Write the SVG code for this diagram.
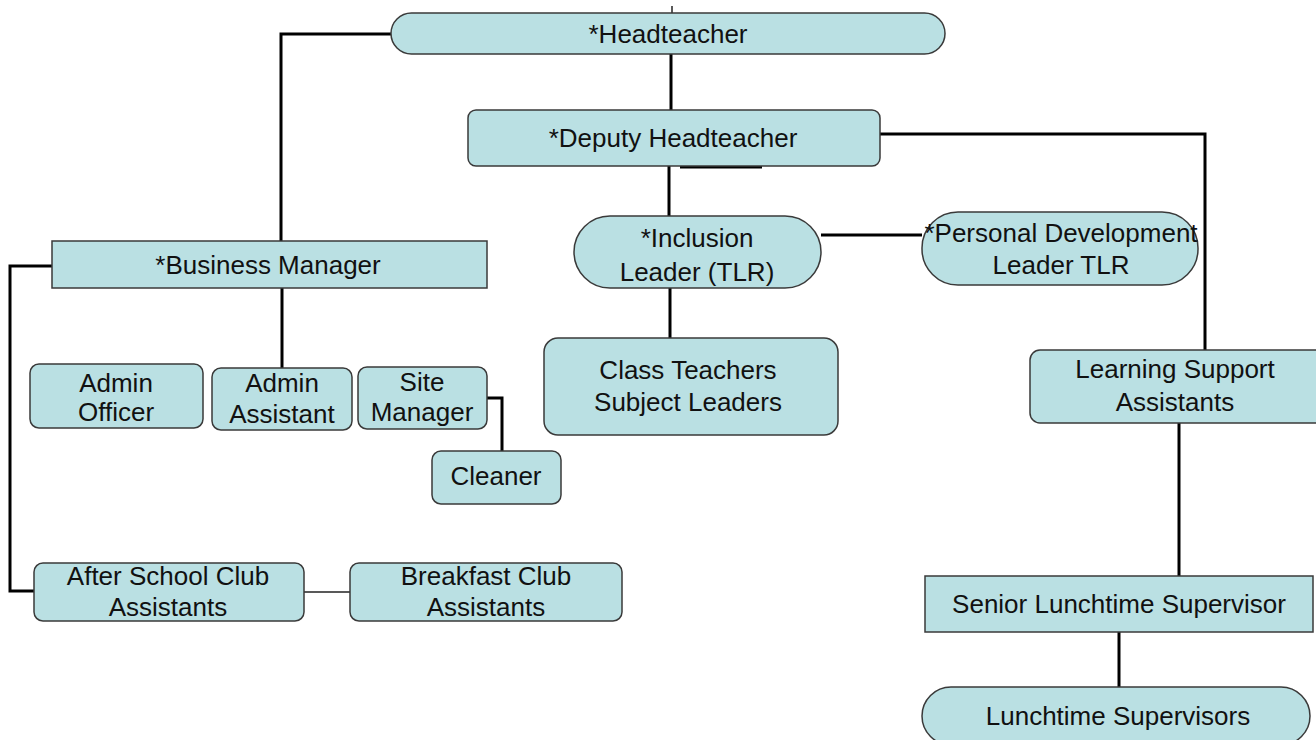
<svg xmlns="http://www.w3.org/2000/svg" width="1316" height="740" viewBox="0 0 1316 740">
<style>
.n{fill:#BAE0E3;stroke:#3a3a3a;stroke-width:1.5}
.t{font-family:"Liberation Sans",Arial,sans-serif;font-size:26px;fill:#111;text-anchor:middle}
.c{fill:none;stroke:#000;stroke-width:3}
.thin{fill:none;stroke:#222;stroke-width:1.5}
</style>
<rect width="1316" height="740" fill="#fff"/>
<g id="connectors">
<line class="thin" x1="672" y1="6" x2="672" y2="13" stroke="#888"/>
<line class="c" x1="671" y1="54" x2="671" y2="110"/>
<polyline class="c" points="391,34 281,34 281,241"/>
<polyline class="c" points="880,134 1205,134 1205,350"/>
<line class="c" x1="680" y1="167" x2="762" y2="167" stroke-width="2"/>
<line class="c" x1="669" y1="166" x2="669" y2="216"/>
<line class="c" x1="821" y1="235" x2="922" y2="235"/>
<line class="c" x1="670" y1="288" x2="670" y2="338"/>
<polyline class="c" points="52,266 10,266 10,591 34,591"/>
<line class="c" x1="282" y1="288" x2="282" y2="368"/>
<polyline class="c" points="487,398 502,398 502,451"/>
<line class="thin" x1="304" y1="592" x2="350" y2="592"/>
<line class="c" x1="1179" y1="423" x2="1179" y2="576"/>
<line class="c" x1="1119" y1="632" x2="1119" y2="687"/>
</g>
<g id="headteacher"><rect class="n" x="391" y="13" width="554" height="41" rx="20.5"/><text class="t" x="668" y="43">*Headteacher</text></g>
<g id="deputy"><rect class="n" x="468" y="110" width="412" height="56" rx="8"/><text class="t" x="673" y="147">*Deputy Headteacher</text></g>
<g id="business-manager"><rect class="n" x="52" y="241" width="435" height="47"/><text class="t" x="268" y="274">*Business Manager</text></g>
<g id="admin-officer"><rect class="n" x="30" y="364" width="173" height="64" rx="9"/><text class="t" x="116" y="392">Admin</text><text class="t" x="116" y="421">Officer</text></g>
<g id="admin-assistant"><rect class="n" x="212" y="368" width="140" height="62" rx="9"/><text class="t" x="282" y="392">Admin</text><text class="t" x="282" y="423">Assistant</text></g>
<g id="site-manager"><rect class="n" x="358" y="367" width="129" height="62" rx="9"/><text class="t" x="422" y="391">Site</text><text class="t" x="422" y="421">Manager</text></g>
<g id="cleaner"><rect class="n" x="432" y="451" width="129" height="53" rx="9"/><text class="t" x="496" y="485">Cleaner</text></g>
<g id="inclusion-leader"><rect class="n" x="574" y="216" width="247" height="72" rx="36"/><text class="t" x="697" y="247">*Inclusion</text><text class="t" x="697" y="281">Leader (TLR)</text></g>
<g id="personal-development"><rect class="n" x="922" y="212" width="276" height="73" rx="36"/><text class="t" x="1061" y="242">*Personal Development</text><text class="t" x="1061" y="274">Leader TLR</text></g>
<g id="class-teachers"><rect class="n" x="544" y="338" width="294" height="97" rx="14"/><text class="t" x="688" y="379">Class Teachers</text><text class="t" x="688" y="411">Subject Leaders</text></g>
<g id="learning-support"><rect class="n" x="1030" y="350" width="300" height="73" rx="10"/><text class="t" x="1175" y="378">Learning Support</text><text class="t" x="1175" y="411">Assistants</text></g>
<g id="after-school"><rect class="n" x="34" y="563" width="270" height="58" rx="9"/><text class="t" x="168" y="585">After School Club</text><text class="t" x="168" y="616">Assistants</text></g>
<g id="breakfast"><rect class="n" x="350" y="563" width="272" height="58" rx="9"/><text class="t" x="486" y="585">Breakfast Club</text><text class="t" x="486" y="616">Assistants</text></g>
<g id="senior-lunchtime"><rect class="n" x="925" y="576" width="388" height="56"/><text class="t" x="1119" y="613">Senior Lunchtime Supervisor</text></g>
<g id="lunchtime"><rect class="n" x="922" y="687" width="388" height="58" rx="29"/><text class="t" x="1118" y="725">Lunchtime Supervisors</text></g>
</svg>
